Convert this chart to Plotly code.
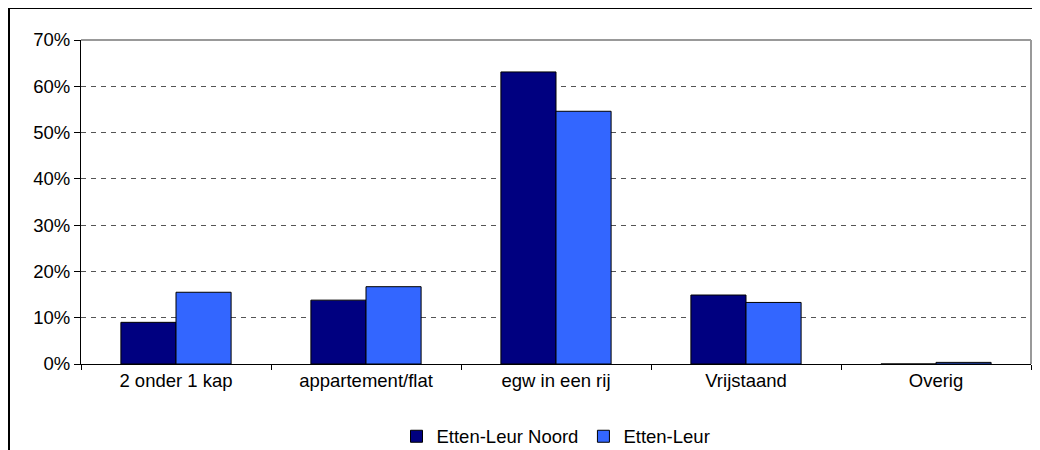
import plotly.graph_objects as go

categories = ["2 onder 1 kap", "appartement/flat", "egw in een rij", "Vrijstaand", "Overig"]
noord = [9.0, 13.8, 63.1, 14.9, 0.0]
etten_leur = [15.5, 16.7, 54.6, 13.3, 0.35]
y_ticks = [0, 10, 20, 30, 40, 50, 60, 70]
y_labels = [f"{v}%" for v in y_ticks]

# the page body has an 8px margin, so the figure starts at (8, 8) in the window
W, H = 1024, 442
L, R, T, B = 73, 1, 32, 86

fig = go.Figure()

fig.add_trace(go.Bar(x=categories, y=noord, name="Etten-Leur Noord",
                     marker=dict(color="#000080", line=dict(color="#000000", width=1))))
fig.add_trace(go.Bar(x=categories, y=etten_leur, name="Etten-Leur",
                     marker=dict(color="#3366FF", line=dict(color="#000000", width=1))))

fig.update_layout(
    width=W, height=H,
    margin=dict(l=L, r=R, t=T, b=B),
    paper_bgcolor="white", plot_bgcolor="white",
    font=dict(family="Liberation Sans, Arial", size=18.5, color="#000000"),
    barmode="group", bargap=0.42, bargroupgap=0,
    showlegend=True,
    legend=dict(orientation="h", x=0.5, xanchor="center", xref="paper",
                y=0.03, yanchor="middle", yref="container",
                font=dict(size=18.5), itemwidth=30, tracegroupgap=0),
)

fig.update_xaxes(
    showline=True, linecolor="#000000", linewidth=1,
    ticks="outside", ticklen=5, tickcolor="#000000", tickson="boundaries",
    showgrid=False, mirror=False,
)
fig.update_yaxes(
    range=[0, 70], tickvals=y_ticks, ticktext=y_labels,
    showline=True, linecolor="#000000", linewidth=1,
    ticks="outside", ticklen=6, tickcolor="#000000",
    showgrid=True, gridcolor="#555555", gridwidth=1, griddash="5px,5px",
    zeroline=False,
)

# plot-area border (top and right in grey)
fig.add_shape(type="line", xref="paper", yref="paper", x0=0, x1=1, y0=1, y1=1,
              line=dict(color="#999999", width=2))
fig.add_shape(type="line", xref="paper", yref="paper", x0=1, x1=1, y0=0, y1=1,
              line=dict(color="#999999", width=2))

# outer chart frame
fig.add_shape(type="rect", xref="paper", yref="paper",
              x0=(1 - L) / (W - L - R), x1=1.2, y0=-0.5, y1=(H - B) / (H - T - B),
              line=dict(color="#000000", width=2), layer="below")

fig.write_html("out.html")
